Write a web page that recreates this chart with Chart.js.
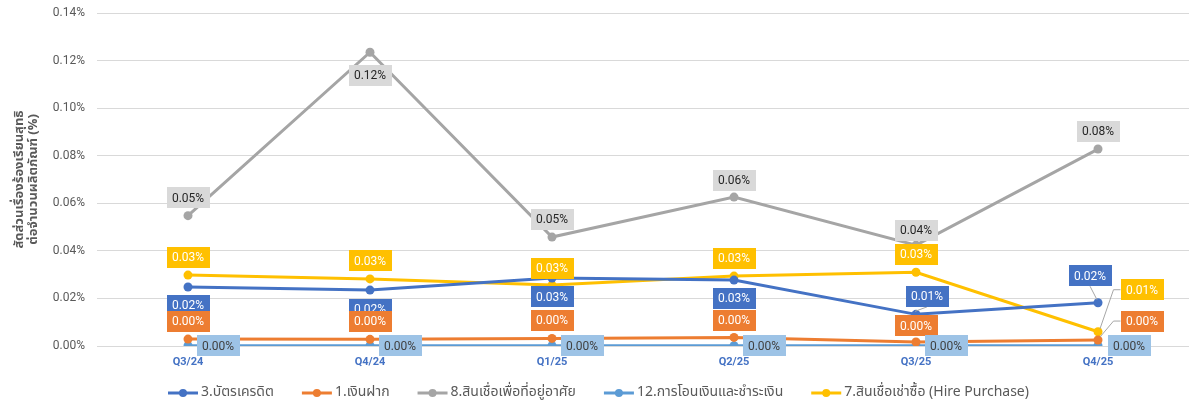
<!DOCTYPE html>
<html>
<head>
<meta charset="utf-8">
<script src="https://cdn.jsdelivr.net/npm/chart.js@4.4.1/dist/chart.umd.min.js"></script>
<style>
  body { margin: 0; background: #fff; }
  #wrap { width: 1189px; height: 410px; position: relative; }
</style>
</head>
<body>
<div id="wrap"><canvas id="chart"></canvas></div>
<script>
// quarters on the x axis
var quarters = ['Q3/24', 'Q4/24', 'Q1/25', 'Q2/25', 'Q3/25', 'Q4/25'];

// series values, in percent
var creditCard   = [0.0248, 0.0235, 0.0286, 0.0277, 0.0133, 0.0182];
var deposit      = [0.0029, 0.0028, 0.0032, 0.0036, 0.0017, 0.0025];
var housingLoan  = [0.0548, 0.1235, 0.0458, 0.0626, 0.0424, 0.0828];
var transfer     = [0.0001, 0.0001, 0.0001, 0.0001, 0.0001, 0.0001];
var hirePurchase = [0.0298, 0.0282, 0.0256, 0.0294, 0.0310, 0.0060];

var seriesNames = [
    '3.บัตรเครดิต',
    '1.เงินฝาก',
    '8.สินเชื่อเพื่อที่อยู่อาศัย',
    '12.การโอนเงินและชำระเงิน',
    '7.สินเชื่อเช่าซื้อ (Hire Purchase)'
];

var yTicks = [0, 0.02, 0.04, 0.06, 0.08, 0.10, 0.12, 0.14];

var lineColors = ['#4472c4', '#ed7d31', '#a5a5a5', '#5b9bd5', '#ffc000'];
var boxColors  = ['#4472c4', '#ed7d31', '#d9d9d9', '#9dc3e6', '#ffc000'];
var textColors = ['#ffffff', '#ffffff', '#262626', '#404040', '#ffffff'];

var thaiFont = '"Noto Sans Thai", "Leelawadee UI", Tahoma, "DejaVu Sans", sans-serif';
var numFont = 'Roboto, "Liberation Sans", sans-serif';

// label box offsets from each point (dx, dy, leader)
var labelPlace = [
    [[0, 18], [0, 19], [0, 19], [0, 18], [11, -18, 'bottom'], [-8, -27, 'bottom']],
    [[0, -18], [0, -18], [0, -18], [0, -17], [0, -16], [44, -19, 'left']],
    [[0, -18], [0, 23], [0, -18], [0, -17], [0, -15], [0, -18]],
    [[30, 0], [30, 0], [30, 0], [30, 0], [30, 0], [31, 0]],
    [[0, -18], [0, -18], [0, -17], [0, -18], [0, -18], [44, -42, 'left']]
];

var pointLabels = {
    id: 'pointLabels',
    afterDatasetsDraw: function(chart) {
        var ctx = chart.ctx;
        var w = 43, h = 21;
        ctx.save();
        ctx.font = '12px ' + numFont;
        ctx.textAlign = 'center';
        ctx.textBaseline = 'middle';
        chart.data.datasets.forEach(function(ds, i) {
            var meta = chart.getDatasetMeta(i);
            meta.data.forEach(function(pt, j) {
                var p = labelPlace[i][j];
                var bx = pt.x + p[0], by = pt.y + p[1];
                if (p[2]) {
                    ctx.strokeStyle = '#a6a6a6';
                    ctx.lineWidth = 1;
                    ctx.beginPath();
                    if (p[2] === 'left') {
                        ctx.moveTo(bx - w / 2, by);
                        ctx.lineTo(bx - w / 2 - 7, by);
                        ctx.lineTo(pt.x + 2, pt.y - 3);
                    } else {
                        ctx.moveTo(bx, by + h / 2);
                        ctx.lineTo(pt.x - 1, pt.y - 3);
                    }
                    ctx.stroke();
                }
                ctx.fillStyle = boxColors[i];
                ctx.fillRect(Math.round(bx - w / 2), Math.round(by - h / 2), w, h);
                ctx.fillStyle = textColors[i];
                ctx.fillText(ds.data[j].toFixed(2) + '%', bx, by + 1);
            });
        });
        ctx.restore();
    }
};

// legend drawn by hand: line with a dot, then the name
var bottomLegend = {
    id: 'bottomLegend',
    afterDraw: function(chart) {
        var ctx = chart.ctx;
        var y = 393, mark = 30, gap = 3, spacing = 28;
        ctx.save();
        ctx.font = '14px ' + thaiFont;
        ctx.textBaseline = 'middle';
        var widths = chart.data.datasets.map(function(ds) { return ctx.measureText(ds.label).width; });
        var total = widths.reduce(function(a, b) { return a + b + mark + gap; }, 0) + spacing * (widths.length - 1);
        var x = Math.round((chart.width - total) / 2) + 4;
        chart.data.datasets.forEach(function(ds, i) {
            ctx.strokeStyle = lineColors[i];
            ctx.lineWidth = 3;
            ctx.beginPath(); ctx.moveTo(x, y); ctx.lineTo(x + mark, y); ctx.stroke();
            ctx.fillStyle = lineColors[i];
            ctx.beginPath(); ctx.arc(x + mark / 2, y, 4, 0, Math.PI * 2); ctx.fill();
            ctx.fillStyle = '#595959';
            ctx.fillText(ds.label, x + mark + gap, y);
            x += mark + gap + widths[i] + spacing;
        });
        ctx.restore();
    }
};

var allSeries = [creditCard, deposit, housingLoan, transfer, hirePurchase];

var datasets = allSeries.map(function(vals, i) {
    return {
        label: seriesNames[i],
        data: vals,
        borderColor: lineColors[i],
        backgroundColor: lineColors[i],
        borderWidth: 3,
        pointStyle: 'circle',
        pointRadius: 4.5,
        pointHoverRadius: 4.5,
        pointBorderWidth: 0,
        tension: 0
    };
});

new Chart(document.getElementById('chart'), {
    type: 'line',
    data: { labels: quarters, datasets: datasets },
    plugins: [pointLabels, bottomLegend],
    options: {
        responsive: true,
        maintainAspectRatio: false,
        animation: false,
        layout: { autoPadding: false, padding: { top: 13, right: -3, bottom: 34, left: 0 } },
        plugins: {
            tooltip: { enabled: false },
            legend: { display: false }
        },
        scales: {
            x: {
                offset: true,
                afterFit: function(scale) {
                    scale.height = 30;
                    scale.paddingLeft = 0;
                    scale.paddingRight = 0;
                },
                grid: { display: false, drawTicks: false },
                border: { display: false },
                ticks: {
                    color: '#4472c4',
                    padding: 10,
                    font: { family: numFont, size: 11, weight: 'bold' }
                }
            },
            y: {
                min: 0,
                max: 0.14,
                afterBuildTicks: function(scale) {
                    scale.ticks = yTicks.map(function(v) { return { value: v }; });
                },
                afterFit: function(scale) {
                    scale.width = 97;
                    scale.paddingTop = 0;
                    scale.paddingBottom = 0;
                },
                grid: { color: '#d9d9d9', drawTicks: false, lineWidth: 1 },
                border: { display: false },
                ticks: {
                    color: '#595959',
                    padding: 12,
                    font: { family: numFont, size: 12 },
                    callback: function(v) { return v.toFixed(2) + '%'; }
                },
                title: {
                    display: true,
                    text: ['สัดส่วนเรื่องร้องเรียนสุทธิ', 'ต่อจำนวนผลิตภัณฑ์ (%)'],
                    color: '#595959',
                    padding: { top: 13, bottom: 0 },
                    font: { family: thaiFont, size: 13, weight: 'bold', lineHeight: 1.1 }
                }
            }
        }
    }
});
</script>
</body>
</html>
